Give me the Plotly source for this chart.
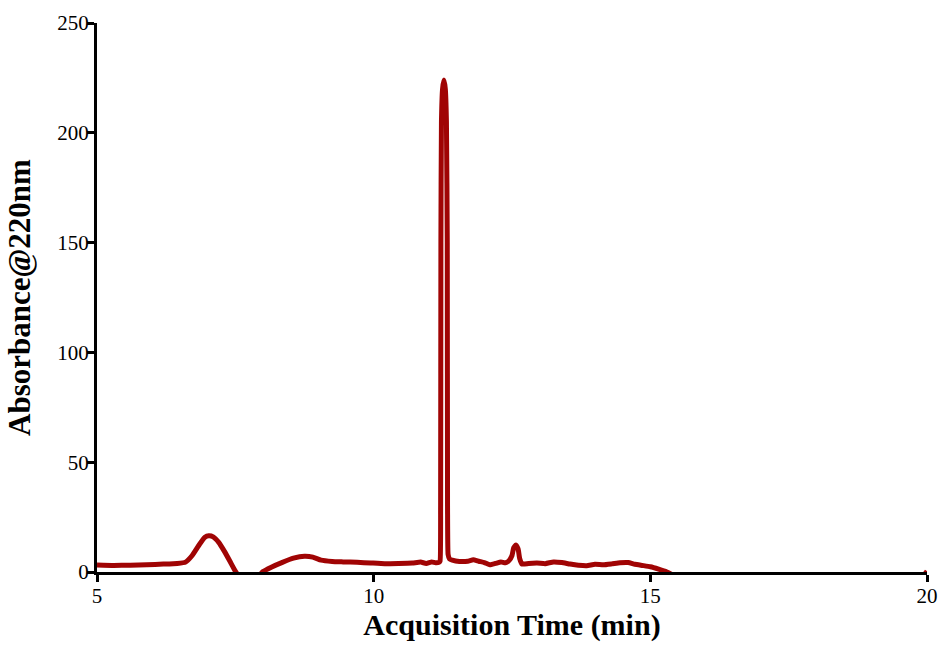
import plotly.graph_objects as go

# Chromatogram trace: acquisition time (min) vs absorbance at 220 nm
time_min = [
    5.00, 5.30, 5.60, 5.90, 6.20, 6.45, 6.60, 6.72, 6.85, 6.95, 7.02, 7.10,
    7.20, 7.30, 7.40, 7.50, 7.60, 7.75, 7.90, 8.00, 8.15, 8.35, 8.55, 8.75,
    8.90, 9.05, 9.25, 9.45, 9.70, 9.95, 10.20, 10.45, 10.70, 10.85, 10.95,
    11.05, 11.12, 11.18, 11.20, 11.21, 11.215, 11.225, 11.245, 11.27,
    11.295, 11.315, 11.33, 11.335, 11.345, 11.37, 11.42, 11.55, 11.70,
    11.80, 11.90, 12.00, 12.10, 12.20, 12.30, 12.38, 12.45, 12.50, 12.53,
    12.57, 12.61, 12.64, 12.68, 12.80, 12.95, 13.10, 13.25, 13.40, 13.55,
    13.70, 13.85, 14.00, 14.15, 14.30, 14.45, 14.60, 14.72, 14.85, 15.00,
    15.15, 15.30, 15.50, 16.50, 18.00, 19.50, 19.92, 20.00,
]
absorbance = [
    3.2, 3.0, 3.1, 3.3, 3.6, 3.9, 4.5, 7.5, 12.5, 15.8, 16.5, 16.0,
    13.5, 9.5, 5.0, 0.4, -3.0, -5.0, -2.5, 0.2, 2.2, 4.4, 6.3, 7.2,
    6.8, 5.4, 4.8, 4.6, 4.4, 4.1, 3.8, 3.9, 4.1, 4.5, 3.9,
    4.6, 4.2, 4.4, 5.0, 30.0, 150.0, 205.0, 220.0, 224.0,
    220.0, 205.0, 150.0, 30.0, 8.0, 6.0, 5.4, 4.8, 4.9,
    5.6, 4.9, 4.3, 3.3, 3.9, 4.6, 4.2, 5.3, 7.5, 11.0,
    12.3, 10.5, 6.0, 3.6, 3.9, 4.1, 3.8, 4.6, 4.3, 3.6,
    3.1, 2.9, 3.5, 3.3, 3.7, 4.2, 4.3, 3.5, 3.0, 2.4,
    1.3, 0.0, -2.5, -6.0, -6.0, -4.0, -2.0, 0.4,
]

x_ticks = [5, 10, 15, 20]
y_ticks = [0, 50, 100, 150, 200, 250]

serif = "Liberation Serif, Times New Roman, serif"

fig = go.Figure()
fig.add_trace(go.Scatter(
    x=time_min,
    y=absorbance,
    mode="lines",
    line=dict(color="#A00404", width=5, shape="spline", smoothing=0.4),
    showlegend=False,
    hoverinfo="x+y",
))

axis_common = dict(
    showgrid=False,
    zeroline=False,
    showline=True,
    linecolor="black",
    linewidth=3,
    ticks="outside",
    ticklen=7,
    tickwidth=3,
    tickcolor="black",
    tickfont=dict(family=serif, size=21, color="black"),
    automargin=False,
)

fig.update_layout(
    width=941,
    height=650,
    margin=dict(l=97, r=14, t=23, b=78),
    paper_bgcolor="white",
    plot_bgcolor="white",
    xaxis=dict(
        range=[5, 20],
        tickvals=x_ticks,
        ticktext=[str(v) for v in x_ticks],
        ticklabelstandoff=-4,
        title=dict(text="<b>Acquisition Time (min)</b>",
                   font=dict(family=serif, size=30, color="black"),
                   standoff=4),
        **axis_common,
    ),
    yaxis=dict(
        range=[0, 250],
        tickvals=y_ticks,
        ticktext=[str(v) for v in y_ticks],
        ticklabelstandoff=-6,
        title=dict(text="<b>Absorbance@220nm</b>",
                   font=dict(family=serif, size=31, color="black"),
                   standoff=18),
        **axis_common,
    ),
)

fig.write_html("out.html")
